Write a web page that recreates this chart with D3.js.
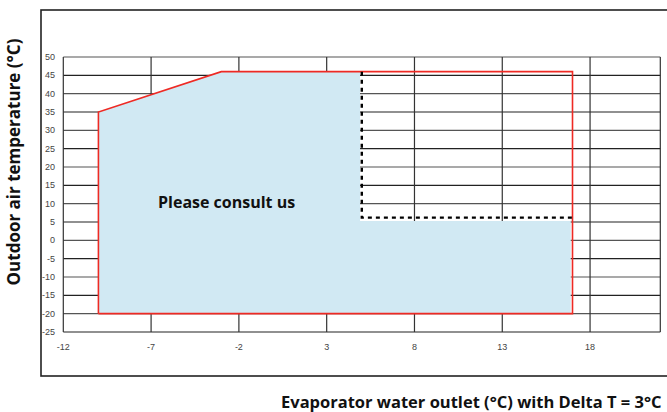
<!DOCTYPE html>
<html>
<head>
<meta charset="utf-8">
<script src="https://cdn.jsdelivr.net/npm/d3@7"></script>
<style>
  body { margin: 0; background: #fff; }
  svg { display: block; }
  .tick-label { font-family: "Liberation Sans", Arial, sans-serif; font-size: 9px; fill: #444; }
  .title { font-family: "Open Sans", sans-serif; font-weight: bold; fill: #111; }
</style>
</head>
<body>
<div id="chart"></div>
<script>
// datos del gráfico
const xTicks = [-12, -7, -2, 3, 8, 13, 18];
const xMin = -12, xMax = 22;
const yTicks = [-25, -20, -15, -10, -5, 0, 5, 10, 15, 20, 25, 30, 35, 40, 45, 50];

// envolvente de funcionamiento (línea roja)
const envX = [-10, -10, -3, 17, 17, -10];
const envY = [-20, 35, 46, 46, -20, -20];

// zona rellena (azul)
const fillX = [-10, -10, -3, 4.9, 4.9, 16.9, 16.9];
const fillY = [-20, 35, 46, 46, 5.3, 5.3, -20];

// zona "consultar" (línea discontinua)
const dashX = [5, 5, 17];
const dashY = [46, 6.2, 6.2];

const noteText = 'Please consult us';
const noteX = -2.7, noteY = 9.5;

const W = 667, H = 412;
const svg = d3.select('#chart').append('svg').attr('width', W).attr('height', H);

// marco exterior
svg.append('rect')
    .attr('x', 41).attr('y', 10)
    .attr('width', 700).attr('height', 366)
    .attr('fill', 'none').attr('stroke', '#222').attr('stroke-width', 1.6);

const x = d3.scaleLinear().domain([xMin, xMax]).range([63.3, 660.3]);
const y = d3.scaleLinear().domain([-25, 50]).range([332, 57]);

const grid = svg.append('g');

// líneas horizontales
grid.selectAll('.hline')
    .data(yTicks)
    .enter()
    .append('line')
    .attr('x1', x(xMin)).attr('x2', x(xMax))
    .attr('y1', d => y(d)).attr('y2', d => y(d))
    .attr('stroke', (d, i) => i % 2 ? '#555' : '#222')
    .attr('stroke-width', 1.2);

// líneas verticales
grid.selectAll('.vline')
    .data(xTicks.concat([xMax]))
    .enter()
    .append('line')
    .attr('x1', d => x(d)).attr('x2', d => x(d))
    .attr('y1', y(50)).attr('y2', y(-25))
    .attr('stroke', '#333')
    .attr('stroke-width', 1.2);

const line = d3.line().x(d => x(d[0])).y(d => y(d[1]));

// relleno azul
svg.append('path')
    .attr('d', line(fillX.map((v, i) => [v, fillY[i]])) + 'Z')
    .attr('fill', '#d1e9f3');

// línea roja
svg.append('path')
    .attr('d', line(envX.map((v, i) => [v, envY[i]])))
    .attr('fill', 'none')
    .attr('stroke', '#ee2a24')
    .attr('stroke-width', 1.6);

// línea discontinua
svg.append('path')
    .attr('d', line(dashX.map((v, i) => [v, dashY[i]])))
    .attr('fill', 'none')
    .attr('stroke', '#000')
    .attr('stroke-width', 2.4)
    .attr('stroke-dasharray', '4,4');

// etiquetas de ejes
svg.append('g').selectAll('text')
    .data(yTicks)
    .enter()
    .append('text')
    .attr('class', 'tick-label')
    .attr('x', 55)
    .attr('y', d => y(d) + 3)
    .attr('text-anchor', 'end')
    .text(d => d);

svg.append('g').selectAll('text')
    .data(xTicks)
    .enter()
    .append('text')
    .attr('class', 'tick-label')
    .attr('x', d => x(d))
    .attr('y', 350)
    .attr('text-anchor', 'middle')
    .text(d => d);

// texto central
svg.append('text')
    .attr('class', 'title')
    .attr('x', x(noteX))
    .attr('y', y(noteY) + 2)
    .attr('text-anchor', 'middle')
    .style('font-size', '16px')
    .text(noteText);

// títulos
svg.append('text')
    .attr('class', 'title')
    .attr('transform', 'translate(20,162) rotate(-90)')
    .attr('text-anchor', 'middle')
    .style('font-size', '17px')
    .text('Outdoor air temperature (°C)');

svg.append('text')
    .attr('class', 'title')
    .attr('x', 281)
    .attr('y', 408)
    .style('font-size', '16.5px')
    .text('Evaporator water outlet (°C) with Delta T = 3°C');
</script>
</body>
</html>
